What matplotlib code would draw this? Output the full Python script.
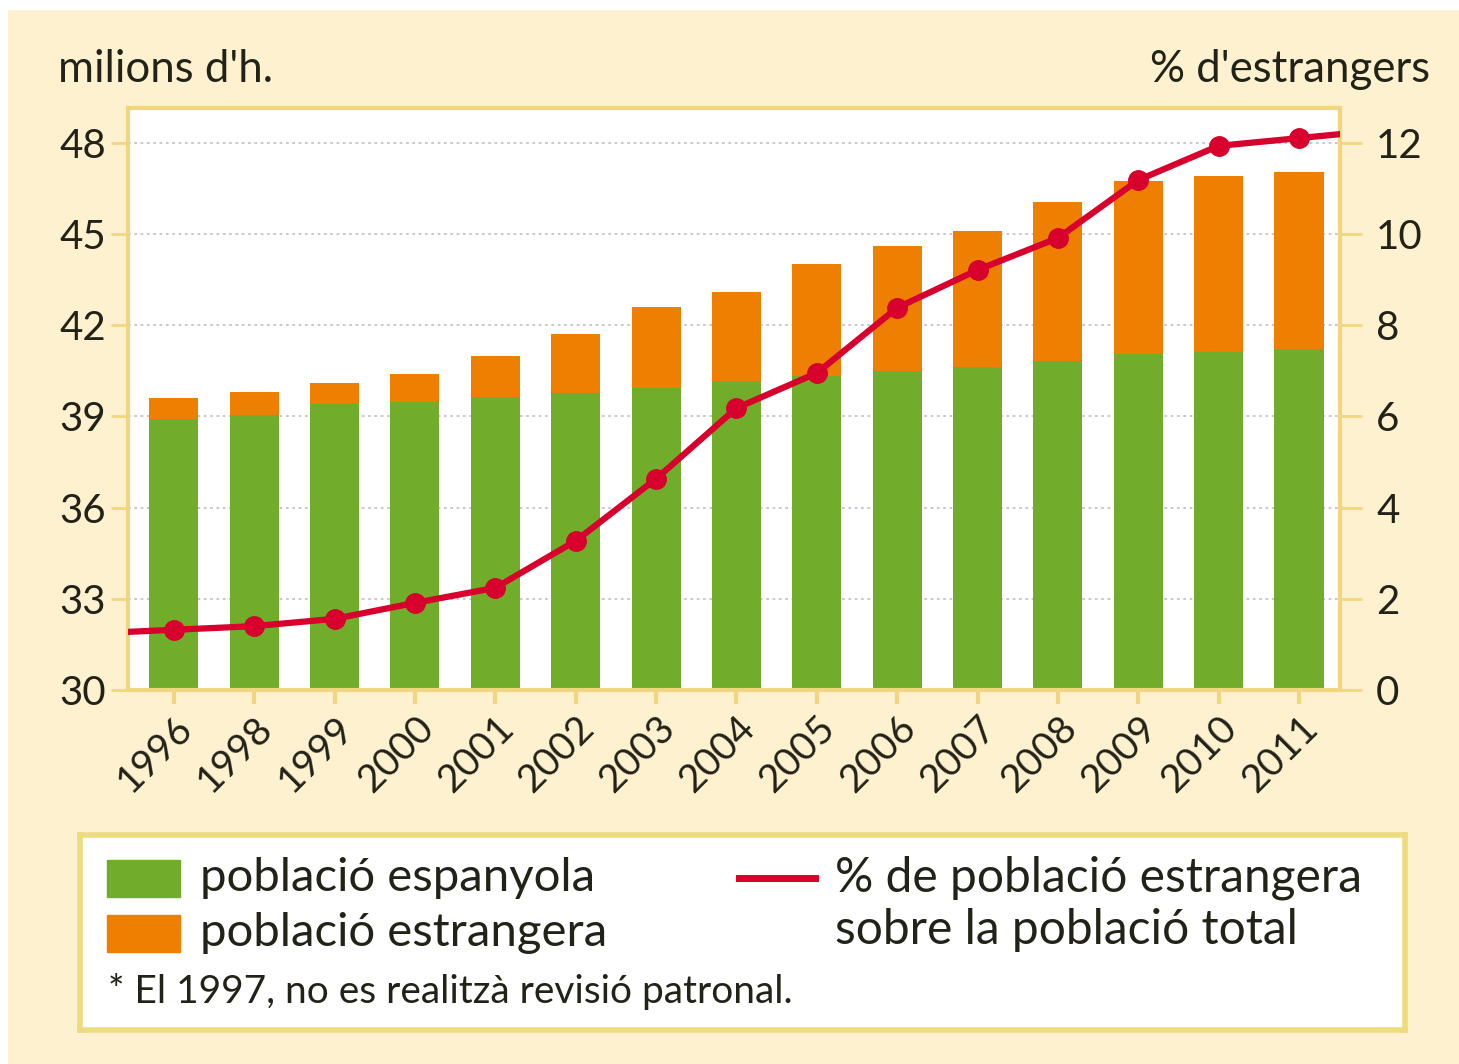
import matplotlib
matplotlib.use("Agg")
import matplotlib.pyplot as plt
from matplotlib.patches import Rectangle
import numpy as np

plt.rcParams['font.family'] = ['Lato', 'DejaVu Sans']

# data
years = ['1996', '1998', '1999', '2000', '2001', '2002', '2003', '2004',
         '2005', '2006', '2007', '2008', '2009', '2010', '2011']
spanish = [38.9, 39.05, 39.4, 39.47, 39.64, 39.77, 39.93, 40.16,
           40.33, 40.5, 40.62, 40.82, 41.05, 41.12, 41.2]
total = [39.6, 39.8, 40.1, 40.4, 41.0, 41.7, 42.6, 43.1,
         44.0, 44.6, 45.1, 46.05, 46.75, 46.9, 47.05]
pct_foreign = [1.32, 1.40, 1.56, 1.91, 2.24, 3.27, 4.63, 6.18,
               6.95, 8.38, 9.21, 9.91, 11.18, 11.93, 12.1]
left_ticks = [30, 33, 36, 39, 42, 45, 48]
right_ticks = [0, 2, 4, 6, 8, 10, 12]

GREEN = '#71ac2b'
ORANGE = '#ef7f00'
RED = '#d8002c'
CREAM = '#fdf1cf'
YELLOW = '#f1d680'
TXT = '#222218'

fig = plt.figure(figsize=(14.59, 10.64), dpi=100)
fig.patch.set_facecolor('white')
fig.patches.append(Rectangle((8 / 1459, 0), 1, 1 - 10 / 1064, transform=fig.transFigure,
                             facecolor=CREAM, edgecolor='none', zorder=-10))

ax = fig.add_axes([128 / 1459, 1 - 690 / 1064, 1212 / 1459, 582 / 1064])
ax.set_facecolor('white')
x = np.arange(len(years))
foreign = np.array(total) - np.array(spanish)
ax.bar(x, spanish, width=0.61, bottom=0, color=GREEN, zorder=2)
ax.bar(x, foreign, width=0.61, bottom=spanish, color=ORANGE, zorder=2)
ax.set_xlim(-0.57, 14.51)
ax.set_ylim(30, 49.14)
ax.set_yticks(left_ticks)
ax.set_yticklabels([str(t) for t in left_ticks], fontsize=29, color=TXT)
ax.grid(axis='y', color='#c4c4d0', linestyle=(0, (1.5, 2)), linewidth=1.3, zorder=1)
ax.set_xticks(x)
ax.set_xticklabels(years, rotation=45, ha='right', va='top', rotation_mode='anchor',
                   fontsize=28, color=TXT)
ax.tick_params(axis='x', length=10, width=3, color=YELLOW, pad=4)
ax.tick_params(axis='y', length=12, width=2, color=YELLOW, pad=4)
for s in ax.spines.values():
    s.set_color(YELLOW)
    s.set_linewidth(3)

ax2 = ax.twinx()
ax2.set_ylim(0, 12.76)
ax2.set_yticks(right_ticks)
ax2.set_yticklabels([str(t) for t in right_ticks], fontsize=29, color=TXT)
ax2.tick_params(axis='y', length=16, width=2, color=YELLOW, pad=10)
for s in ax2.spines.values():
    s.set_visible(False)

# line extended to the plot edges by extrapolating the end segments
xl = ax.get_xlim()
y0 = pct_foreign[0] + (pct_foreign[0] - pct_foreign[1]) * (x[0] - xl[0])
y1 = pct_foreign[-1] + (pct_foreign[-1] - pct_foreign[-2]) * (xl[1] - x[-1])
lx = np.concatenate([[xl[0]], x, [xl[1]]])
ly = np.concatenate([[y0], pct_foreign, [y1]])
ax2.plot(lx, ly, color=RED, linewidth=4.5, zorder=3, clip_on=True)
ax2.plot(x, pct_foreign, 'o', color=RED, markersize=14, zorder=4)

fig.text(58 / 1459, 1 - 70 / 1064, "milions d'h.", fontsize=31.5, color=TXT,
         ha='left', va='center')
fig.text(1430 / 1459, 1 - 70 / 1064, "% d'estrangers", fontsize=31.5, color=TXT,
         ha='right', va='center')

# legend box
lg = fig.add_axes([80 / 1459, 1 - 1030 / 1064, 1325 / 1459, 195 / 1064])
lg.set_xlim(0, 1)
lg.set_ylim(0, 1)
lg.set_xticks([])
lg.set_yticks([])
lg.set_facecolor('white')
for s in lg.spines.values():
    s.set_color('#ecdc7e')
    s.set_linewidth(4)
lg.add_patch(Rectangle((0.0204, 0.682), 0.0551, 0.19, color=GREEN))
lg.add_patch(Rectangle((0.0204, 0.400), 0.0551, 0.19, color=ORANGE))
lg.text(0.0906, 0.78, 'població espanyola', fontsize=34, color=TXT, va='center')
lg.text(0.0906, 0.497, 'població estrangera', fontsize=34, color=TXT, va='center')
lg.plot([0.497, 0.555], [0.78, 0.78], color=RED, linewidth=5)
lg.text(0.570, 0.78, '% de població estrangera', fontsize=34.5, color=TXT, va='center')
lg.text(0.570, 0.513, 'sobre la població total', fontsize=34.5, color=TXT, va='center')
lg.text(0.021, 0.195, '* El 1997, no es realitzà revisió patronal.', fontsize=28,
        color=TXT, va='center')

fig.savefig('out.png', dpi=100)
